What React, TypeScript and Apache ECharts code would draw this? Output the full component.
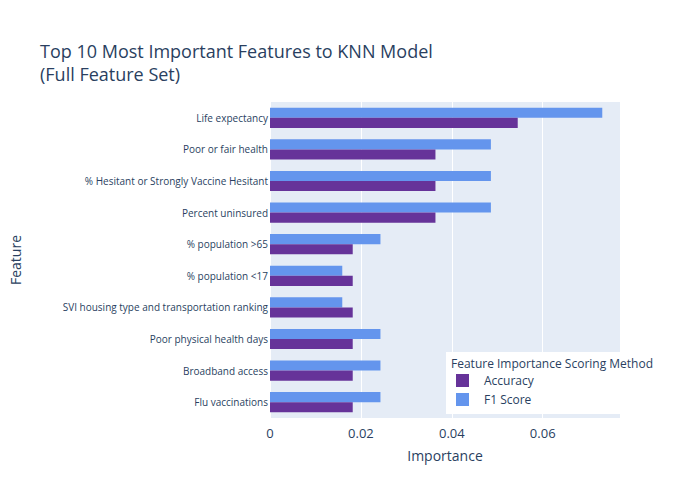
import React, { useEffect, useRef } from 'react';
import * as echarts from 'echarts';

const features = [
  'Flu vaccinations',
  'Broadband access',
  'Poor physical health days',
  'SVI housing type and transportation ranking',
  '% population <17',
  '% population >65',
  'Percent uninsured',
  '% Hesitant or Strongly Vaccine Hesitant',
  'Poor or fair health',
  'Life expectancy',
];
const accuracy = [0.0182, 0.0182, 0.0182, 0.0182, 0.0182, 0.0182, 0.0364, 0.0364, 0.0364, 0.0545];
const f1Score = [0.0243, 0.0243, 0.0243, 0.0159, 0.0159, 0.0243, 0.0486, 0.0486, 0.0486, 0.0731];
const xTicks = [0, 0.02, 0.04, 0.06];

const App: React.FC = () => {
  const chartRef = useRef<HTMLDivElement | null>(null);

  useEffect(() => {
    if (!chartRef.current) return;
    const chart = echarts.init(chartRef.current, undefined, { renderer: 'svg' });
    const font = '"Open Sans", Verdana, Arial, sans-serif';
    chart.setOption({
      animation: false,
      textStyle: { fontFamily: font, color: '#2a3f5f' },
      title: {
        text: 'Top 10 Most Important Features to KNN Model\n(Full Feature Set)',
        left: 35,
        top: 34,
        textStyle: { fontSize: 18, fontWeight: 'normal', color: '#2a3f5f', lineHeight: 23, fontFamily: font },
      },
      grid: { left: 262, right: 80, top: 102, bottom: 82, backgroundColor: '#E5ECF6', show: true, borderWidth: 0 },
      legend: {
        orient: 'vertical',
        left: 456,
        top: 374,
        itemWidth: 13,
        itemHeight: 13,
        itemGap: 6,
        padding: 0,
        icon: 'rect',
        data: ['Accuracy', 'F1 Score'],
        textStyle: { fontSize: 12, color: '#2a3f5f', fontFamily: font, padding: [0, 0, 0, 10] },
      },
      graphic: [
        { type: 'rect', left: 446, top: 352, z: 0, shape: { width: 222, height: 62 }, style: { fill: '#ffffff' } },
        {
          type: 'text',
          left: 451,
          top: 357,
          z: 1,
          style: { text: 'Feature Importance Scoring Method', fontSize: 12, fill: '#2a3f5f', fontFamily: font },
        },
      ],
      xAxis: {
        type: 'value',
        min: 0,
        max: 0.077,
        interval: 0.02,
        name: 'Importance',
        nameLocation: 'middle',
        nameGap: 30,
        nameTextStyle: { fontSize: 14, color: '#2a3f5f' },
        axisLabel: {
          fontSize: 13,
          color: '#2a3f5f',
          formatter: (v: number) => (xTicks.some((t) => Math.abs(t - v) < 1e-9) ? (v === 0 ? '0' : String(+v.toFixed(2))) : ''),
          showMaxLabel: false,
        },
        axisLine: { show: false },
        axisTick: { show: false },
        splitLine: { lineStyle: { color: '#ffffff', width: 1 } },
      },
      yAxis: {
        type: 'category',
        data: features,
        name: 'Feature',
        nameLocation: 'middle',
        nameGap: 248,
        nameRotate: 90,
        nameTextStyle: { fontSize: 14, color: '#2a3f5f' },
        axisLabel: { fontSize: 10, color: '#2a3f5f', margin: 2 },
        axisLine: { show: false },
        axisTick: { show: false },
        splitLine: { show: false },
      },
      series: [
        { name: 'F1 Score', type: 'bar', data: f1Score, itemStyle: { color: '#6495ED' }, barGap: '0%', barCategoryGap: '36%' },
        { name: 'Accuracy', type: 'bar', data: accuracy, itemStyle: { color: '#663399' }, barGap: '0%', barCategoryGap: '36%' },
      ],
    });
    return () => chart.dispose();
  }, []);

  return <div ref={chartRef} style={{ width: 700, height: 500, position: 'absolute', left: 0, top: 0 }} />;
};

export default App;
